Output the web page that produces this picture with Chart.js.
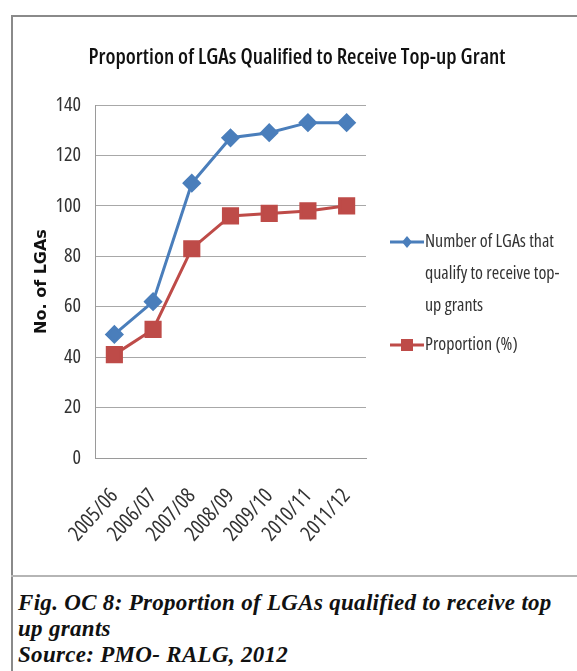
<!DOCTYPE html>
<html>
<head>
<meta charset="utf-8">
<script src="https://cdn.jsdelivr.net/npm/chart.js@4.4.1/dist/chart.umd.min.js"></script>
<style>
  body { margin: 0; background: #fff; width: 577px; height: 671px; overflow: hidden; position: relative; }
  #frame { position: absolute; left: 11px; top: 15px; width: 580px; height: 700px;
           border-left: 2px solid #8a8a8a; border-top: 2px solid #8a8a8a; }
  #sep { position: absolute; left: 11px; top: 575px; width: 577px; height: 2px; background: #b5b5b5; }
  #myChart { position: absolute; left: 13px; top: 17px; }
  #caption { position: absolute; left: 18px; top: 590px; font-family: "Liberation Serif", "DejaVu Serif", serif;
             font-weight: bold; font-style: italic; font-size: 23px; letter-spacing: 0.3px; line-height: 26px; color: #111; }
</style>
</head>
<body>
<div id="frame"></div>
<div id="sep"></div>
<canvas id="myChart" width="564" height="557"></canvas>
<div id="caption">Fig. OC 8: Proportion of LGAs qualified to receive top<br>up grants<br>Source: PMO- RALG, 2012</div>
<script>
const anos = ['2005/06', '2006/07', '2007/08', '2008/09', '2009/10', '2010/11', '2011/12'];
const numeroLGAs = [49, 62, 109, 127, 129, 133, 133];
const proporcao = [41, 51, 83, 96, 97, 98, 100];
const ticksY = [0, 20, 40, 60, 80, 100, 120, 140];
const tituloGrafico = 'Proportion of LGAs Qualified to Receive Top-up Grant';

const fonte = "'Open Sans', sans-serif";

// titulo + legenda desenhados na mao (legenda tem texto em varias linhas)
const extrasManuais = {
    id: 'extrasManuais',
    afterDraw(chart) {
        const c = chart.ctx;
        c.save();
        c.fillStyle = '#111';
        c.font = "condensed 600 22px " + fonte;
        c.textAlign = 'center';
        c.textBaseline = 'middle';
        c.fillText(tituloGrafico, 284, 41, 417);

        const itens = [
            { ds: 0, linhas: ['Number of LGAs that', 'qualify to receive top-', 'up grants'], y: 225 },
            { ds: 1, linhas: ['Proportion (%)'], y: 328 }
        ];
        c.textAlign = 'left';
        itens.forEach(item => {
            const ds = chart.data.datasets[item.ds];
            c.strokeStyle = ds.borderColor;
            c.lineWidth = 3;
            c.beginPath();
            c.moveTo(377, item.y);
            c.lineTo(411, item.y);
            c.stroke();
            c.fillStyle = ds.backgroundColor;
            c.beginPath();
            if (ds.pointStyle === 'rectRot') {
                c.moveTo(394, item.y - 6);
                c.lineTo(399, item.y);
                c.lineTo(394, item.y + 6);
                c.lineTo(389, item.y);
            } else {
                c.rect(388, item.y - 6, 12, 12);
            }
            c.closePath();
            c.fill();
            c.fillStyle = '#333';
            c.font = "condensed 18px " + fonte;
            item.linhas.forEach((t, i) => c.fillText(t, 412, item.y + i * 32));
        });
        c.restore();
    }
};

const ctx = document.getElementById('myChart');

new Chart(ctx, {
    type: 'line',
    data: {
        labels: anos,
        datasets: [{
            label: 'Number of LGAs that qualify to receive top-up grants',
            data: numeroLGAs,
            borderColor: '#4a7ebb',
            backgroundColor: '#4a7ebb',
            borderWidth: 3,
            pointStyle: 'rectRot',
            pointRadius: 7.5,
            tension: 0
        },
        {
            label: 'Proportion (%)',
            data: proporcao,
            borderColor: '#be4b48',
            backgroundColor: '#be4b48',
            borderWidth: 3,
            pointStyle: 'rect',
            pointRadius: 10,
            tension: 0
        }]
    },
    options: {
        responsive: false,
        animation: false,
        devicePixelRatio: 1,
        layout: { padding: { top: 88, right: 211 } },
        scales: {
            x: {
                offset: true,
                grid: { display: false, drawTicks: false },
                border: { display: true, color: '#9a9a9a' },
                ticks: {
                    minRotation: 48,
                    maxRotation: 48,
                    padding: 26,
                    color: '#333',
                    font: { family: fonte, size: 21, weight: 'condensed' }   // "condensed" entra na string da fonte
                },
                afterFit(scale) { scale.height = 116; }
            },
            y: {
                min: 0,
                max: 140,
                afterBuildTicks(scale) { scale.ticks = ticksY.map(v => ({ value: v })); },
                grid: { color: '#a8a8a8', drawTicks: false },
                border: { display: true, color: '#9a9a9a' },
                ticks: {
                    padding: 14,
                    color: '#333',
                    font: { family: fonte, size: 20, weight: 'condensed' }
                },
                title: {
                    display: true,
                    text: 'No. of LGAs',
                    color: '#111',
                    padding: { top: 19, bottom: 0 },
                    font: { family: "'DejaVu Sans', Verdana, sans-serif", size: 16, weight: 'bold' }
                },
                afterFit(scale) { scale.width = 82; }
            }
        },
        plugins: {
            legend: { display: false },
            tooltip: { enabled: false },
            title: { display: false }
        }
    },
    plugins: [extrasManuais]
});
</script>
</body>
</html>
